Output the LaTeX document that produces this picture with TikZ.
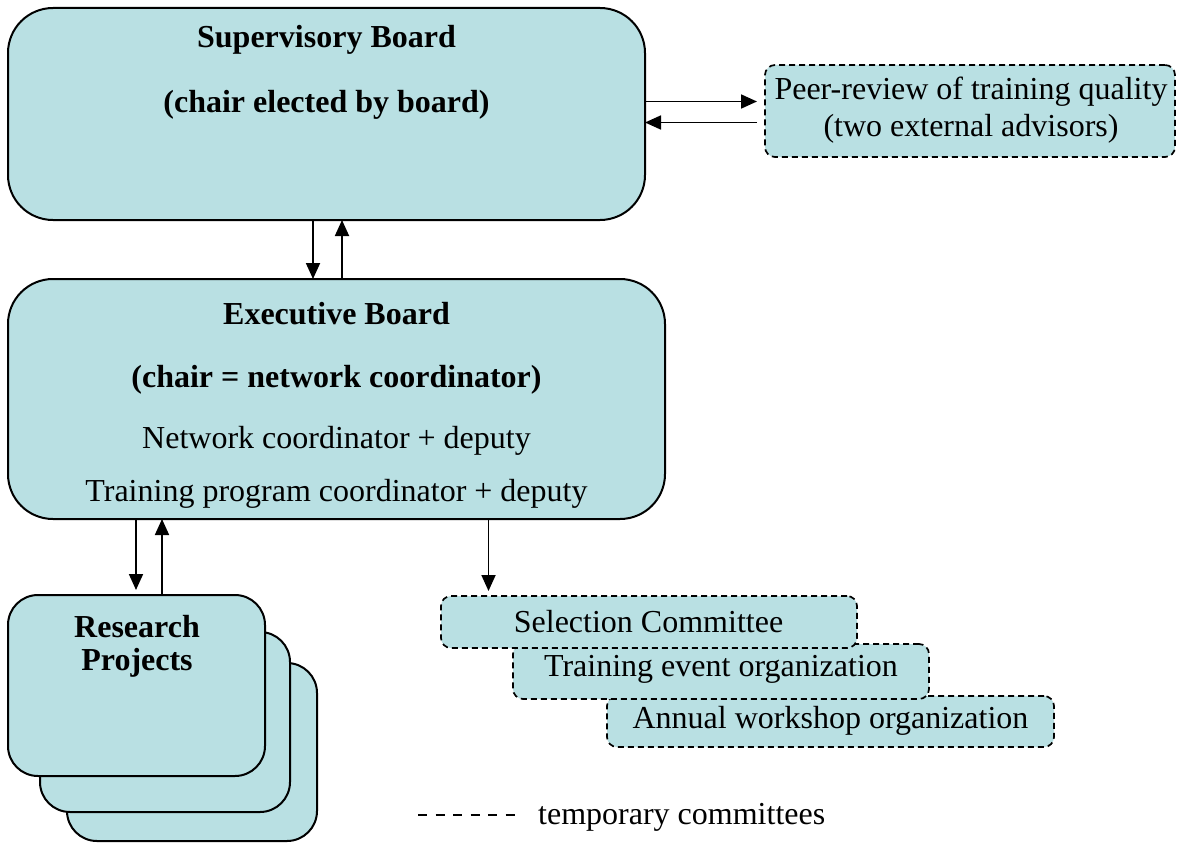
\documentclass[tikz,border=0pt]{standalone}
\usepackage{fontspec}
\setmainfont{Liberation Serif}
\usetikzlibrary{arrows.meta}
\definecolor{cfill}{RGB}{185,224,227}
\begin{document}
\begin{tikzpicture}[x=1pt,y=-1pt,
  box/.style={draw, line width=2pt, fill=cfill, anchor=north west, inner sep=0pt, outer sep=0pt},
  bigbox/.style={box, rounded corners=45pt},
  rpbox/.style={box, rounded corners=30pt},
  tbox/.style={box, dash pattern=on 6pt off 4pt, line width=1.7pt, rounded corners=10pt},
  txt/.style={font=\fontsize{32}{38}\selectfont, inner sep=0pt},
  btxt/.style={font=\fontsize{32}{38}\selectfont\bfseries, inner sep=0pt},
  arr/.style={line width=1.8pt, -{Triangle[length=16pt,width=14pt]}}]
\useasboundingbox (0,0) rectangle (1177,843);

% Supervisory board
\node[bigbox, minimum width=637pt, minimum height=212pt] (sb) at (8,8) {};
\node[btxt] (sbt1) at (326.5,40) {Supervisory Board};
\node[btxt] (sbt2) at (326.5,105) {(chair elected by board)};

% Peer review
\node[tbox, minimum width=410pt, minimum height=92pt] (peer) at (765,65) {};
\node[txt] (pt1) at (971,92) {Peer-review of training quality};
\node[txt] (pt2) at (971,129) {(two external advisors)};

% Executive board
\node[bigbox, minimum width=657pt, minimum height=240pt] (eb) at (8,279) {};
\node[btxt] (ebt1) at (336.5,314) {Executive Board};
\node[btxt] (ebt2) at (336.5,380) {(chair = network coordinator)};
\node[txt] (ebt3) at (336.5,441) {Network coordinator + deputy};
\node[txt] (ebt4) at (336.5,494) {Training program coordinator + deputy};

% Research projects stack
\node[rpbox, minimum width=250pt, minimum height=178pt] (rp3) at (67,663) {};
\node[rpbox, minimum width=250pt, minimum height=180pt] (rp2) at (40,632) {};
\node[rpbox, minimum width=257pt, minimum height=181pt] (rp1) at (8,595) {};
\node[btxt] (rpt1) at (137,627) {Research};
\node[btxt] (rpt2) at (137,663) {Projects};

% Temporary committees
\node[tbox, minimum width=447pt, minimum height=51pt] (ann) at (607,696) {};
\node[tbox, minimum width=416pt, minimum height=55pt] (tre) at (513,644) {};
\node[tbox, minimum width=416pt, minimum height=52pt] (sel) at (441,596) {};
\node[txt] (selt) at (648.5,622) {Selection Committee};
\node[txt] (tret) at (721,669) {Training event organization};
\node[txt] (annt) at (830.5,721) {Annual workshop organization};

% Connectors
\coordinate (xa) at (313,0);
\coordinate (xb) at (342,0);
\coordinate (xc) at (136,0);
\coordinate (xd) at (162,0);
\coordinate (xe) at (488.5,0);
\coordinate (ya) at (0,101.5);
\coordinate (yb) at (0,122.5);

\draw[arr] (sb.south -| xa) -- (eb.north -| xa);
\draw[arr] (eb.north -| xb) -- (sb.south -| xb);
\draw[arr, shorten >=8pt] (sb.east |- ya) -- (peer.west |- ya);
\draw[arr, shorten <=8pt] (peer.west |- yb) -- (sb.east |- yb);
\draw[arr, shorten >=5pt] (eb.south -| xc) -- (rp1.north -| xc);
\draw[arr] (rp1.north -| xd) -- (eb.south -| xd);
\draw[arr, shorten >=5pt] (eb.south -| xe) -- (sel.north -| xe);

% Legend
\coordinate (lg1) at (418,815);
\coordinate (lg2) at (521,815);
\draw[line width=2pt, dash pattern=on 9pt off 8.5pt] (lg1) -- (lg2);
\node[txt, anchor=west] (leg) at (538,817) {temporary committees};
\end{tikzpicture}
\end{document}
